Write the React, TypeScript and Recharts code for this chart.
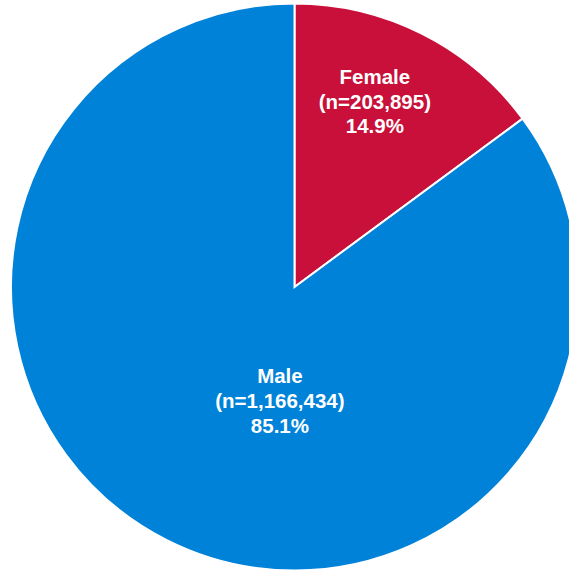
import { PieChart, Pie, Cell } from "recharts";

const categories = ["Female", "Male"];
const counts = [203895, 1166434];
const colors = ["#C8103A", "#0082D9"];

// where each label's first line sits, as polar offset from the pie centre
const labelSpots = [
  { r: 0.77, angle: 68.4 },
  { r: 0.344, angle: -98.6 },
];

const total = counts.reduce((a, b) => a + b, 0);
const data = categories.map((name, i) => ({ name, value: counts[i] }));

const RAD = Math.PI / 180;

function renderLabel(props: any) {
  const { cx, cy, outerRadius, index } = props;
  const spot = labelSpots[index];
  const x = cx + outerRadius * spot.r * Math.cos(spot.angle * RAD);
  const y = cy - outerRadius * spot.r * Math.sin(spot.angle * RAD);
  const pct = ((counts[index] / total) * 100).toFixed(1);
  return (
    <text
      x={x}
      y={y}
      fill="#fff"
      textAnchor="middle"
      fontFamily="'Liberation Sans', Arial, sans-serif"
      fontWeight="bold"
      fontSize={20.5}
    >
      <tspan x={x}>{categories[index]}</tspan>
      <tspan x={x} dy={24.6}>{`(n=${counts[index].toLocaleString("en-US")})`}</tspan>
      <tspan x={x} dy={24.6}>{`${pct}%`}</tspan>
    </text>
  );
}

export default function App() {
  return (
    <div style={{ position: "absolute", left: 0, top: 0, width: 569, height: 571, background: "#fff" }}>
      <PieChart width={569} height={571} margin={{ top: 0, right: 0, bottom: 0, left: 0 }}>
        <Pie
          data={data}
          dataKey="value"
          nameKey="name"
          cx={294.5}
          cy={287}
          outerRadius={283.5}
          startAngle={90}
          endAngle={-270}
          stroke="#fff"
          strokeWidth={2}
          labelLine={false}
          label={renderLabel}
          isAnimationActive={false}
        >
          {data.map((d, i) => (
            <Cell key={d.name} fill={colors[i]} />
          ))}
        </Pie>
      </PieChart>
    </div>
  );
}
